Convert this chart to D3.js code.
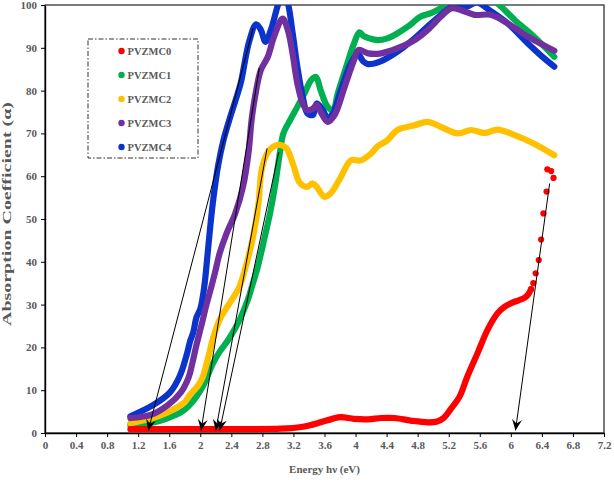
<!DOCTYPE html>
<html><head><meta charset="utf-8">
<script src="https://cdn.jsdelivr.net/npm/d3@7"></script>
<style>body{margin:0;background:#fff}</style>
</head><body>
<svg id="c" width="614" height="484"></svg>
<script>
const seriesNames = ["PVZMC0","PVZMC1","PVZMC2","PVZMC3","PVZMC4"];
const seriesColors = ["#ff0000","#00b050","#ffc000","#7030a0","#0a34cc"];

const pvzmc0 = [[1.10,0.9],[1.50,0.9],[2.00,0.9],[2.50,0.9],[3.04,1.0],[3.30,1.4],[3.55,2.5],[3.70,3.3],[3.81,3.7],[3.98,3.3],[4.16,3.2],[4.33,3.5],[4.50,3.5],[4.71,2.9],[4.93,2.5],[5.05,2.7],[5.14,3.6],[5.23,5.7],[5.34,8.5],[5.44,13.2],[5.57,18.6],[5.70,24.1],[5.83,28],[5.92,29.5],[6.00,30.3],[6.10,31],[6.17,31.5],[6.22,32.3],[6.26,33.6],[6.29,35],[6.32,37.3],[6.36,40.4],[6.39,45.2],[6.42,51.3],[6.46,56.4],[6.47,61.6],[6.52,61.2],[6.55,59.6]];
const pvzmc1 = [[1.10,1.8],[1.41,2.5],[1.60,3.6],[1.75,4.8],[1.85,6.3],[1.95,8.5],[2.05,11.5],[2.12,14.5],[2.17,16.5],[2.25,19],[2.35,21.5],[2.45,24.5],[2.52,27],[2.61,31],[2.67,34.5],[2.74,38.8],[2.82,45],[2.90,51.5],[2.96,57.5],[3.03,66],[3.07,70],[3.16,73.2],[3.25,76.2],[3.34,79.3],[3.43,82.5],[3.49,83.2],[3.55,80.1],[3.64,76.2],[3.71,75.4],[3.77,79.3],[3.88,85.6],[3.98,91],[4.05,93.6],[4.10,92.8],[4.18,92.2],[4.28,91.8],[4.41,92.2],[4.54,93.4],[4.67,94.9],[4.84,97.3],[4.97,98.1],[5.14,99.6],[5.27,100.4],[5.40,101.5],[5.55,102],[5.70,101.5],[5.83,100.3],[6.05,96.5],[6.30,92.6],[6.56,87.9]];
const pvzmc2 = [[1.10,2.3],[1.39,3.5],[1.58,4.8],[1.70,6],[1.80,7.2],[1.87,9],[1.97,11],[2.03,13],[2.10,17.5],[2.17,22.5],[2.25,26.5],[2.33,29],[2.42,31.5],[2.50,34],[2.58,38.5],[2.68,45.9],[2.75,53.7],[2.79,61.4],[2.86,65.3],[2.94,66.9],[3.03,67.3],[3.11,66.5],[3.20,62.5],[3.28,58.5],[3.37,57.5],[3.45,58.3],[3.50,57.5],[3.60,55.2],[3.68,56],[3.81,59.8],[3.94,63.7],[4.07,63.7],[4.20,65.3],[4.28,66.9],[4.41,68.4],[4.54,70.8],[4.76,71.9],[4.93,72.7],[5.10,71.5],[5.32,70],[5.49,70.8],[5.66,70.1],[5.83,70.9],[6.05,69.6],[6.30,67.6],[6.56,64.9]];
const pvzmc3 = [[1.10,3.5],[1.37,4.3],[1.58,6.5],[1.75,9.5],[1.85,13],[1.90,16.5],[1.95,20.5],[2.02,25.5],[2.08,30],[2.14,34],[2.19,37.5],[2.25,42],[2.34,46.7],[2.45,51.3],[2.55,57.5],[2.62,65.3],[2.66,73],[2.70,78],[2.78,84.8],[2.87,87.9],[2.95,92.6],[3.06,96.8],[3.13,94],[3.19,88.5],[3.25,81.7],[3.32,77],[3.38,75.4],[3.45,75.8],[3.50,76.6],[3.56,74.7],[3.64,72.7],[3.73,74.3],[3.86,80.9],[3.98,87.1],[4.04,89.5],[4.16,88.7],[4.33,88.7],[4.54,89.9],[4.76,91.8],[4.93,94.2],[5.10,97.3],[5.23,99.2],[5.36,98.8],[5.53,97.7],[5.74,97.7],[5.96,95.7],[6.22,92.6],[6.56,89.3]];
const pvzmc4 = [[1.10,3.9],[1.39,6.5],[1.61,9.5],[1.74,13.5],[1.83,18.6],[1.87,21.5],[1.91,23.5],[1.95,27],[2.00,29],[2.05,34],[2.09,41],[2.13,48.5],[2.17,55],[2.23,62.5],[2.30,68.5],[2.38,73.5],[2.45,77.5],[2.52,81.7],[2.63,91.5],[2.72,95.5],[2.78,94.2],[2.84,91.4],[2.91,94.2],[3.00,100],[3.06,103],[3.12,101],[3.19,93.4],[3.25,85.6],[3.32,78.5],[3.38,74.7],[3.45,74.3],[3.50,77],[3.58,75.4],[3.64,73.5],[3.71,74.7],[3.81,80.1],[3.94,86.4],[4.03,88.5],[4.10,86.8],[4.16,86.2],[4.33,86.9],[4.54,89.1],[4.76,92.2],[4.93,95],[5.10,97.7],[5.23,99.5],[5.32,100],[5.43,99.6],[5.56,100.6],[5.74,98.6],[5.96,95.7],[6.22,91],[6.40,88],[6.56,85.6]];
const seriesData = [pvzmc0, pvzmc1, pvzmc2, pvzmc3, pvzmc4];

// tangent (extrapolation) lines: [E start, alpha start, E end (arrow), alpha end]
const tangentLines = [[2.68,94.6,1.33,0.6],[2.76,85.3,2.01,0.6],[2.86,66.5,2.20,0.6],[3.01,65.6,2.25,0.6],[6.50,58.3,6.06,0.6]];

const xTicks = [0,0.4,0.8,1.2,1.6,2,2.4,2.8,3.2,3.6,4,4.4,4.8,5.2,5.6,6,6.4,6.8,7.2];
const yTicks = [0,10,20,30,40,50,60,70,80,90,100];
const xTitle = "Energy hν (eV)";
const yTitle = "Absorption Coefficient (α)";

const svg = d3.select("#c");
const L = 45, R = 604, T = 5, B = 433;
const x = d3.scaleLinear().domain([0,7.2]).range([L,R]);
const y = d3.scaleLinear().domain([0,100]).range([B,T]);
const font = "'Liberation Serif','Times New Roman',serif";
const grey = "#595959";

svg.append("defs").append("clipPath").attr("id","clip")
  .append("rect").attr("x",L).attr("y",T).attr("width",R-L).attr("height",B-T);
const defs = svg.select("defs");
defs.append("marker").attr("id","arr").attr("markerUnits","userSpaceOnUse")
  .attr("markerWidth",14).attr("markerHeight",14).attr("refX",0).attr("refY",0)
  .attr("viewBox","-12 -7 14 14").attr("orient","auto")
  .append("path").attr("d","M0,0 L-11,-5 L-7,0 L-11,5 Z").attr("fill","#000");

// frame
svg.append("rect").attr("x",L).attr("y",T).attr("width",R-L).attr("height",B-T)
  .attr("fill","none").attr("stroke","#222").attr("stroke-width",1.2);

// axes
const xa = svg.append("g").attr("transform",`translate(0,${B})`)
  .call(d3.axisBottom(x).tickValues(xTicks).tickSize(4).tickSizeOuter(0).tickPadding(4).tickFormat(d=>String(+d.toFixed(1))));
const ya = svg.append("g").attr("transform",`translate(${L},0)`)
  .call(d3.axisLeft(y).tickValues(yTicks).tickSize(4).tickSizeOuter(0).tickPadding(4));
[xa,ya].forEach(g=>{
  g.select(".domain").attr("stroke","#000").attr("stroke-width",1.4);
  g.selectAll(".tick line").attr("stroke","#000").attr("stroke-width",1);
  g.selectAll(".tick text").attr("fill",grey).attr("font-family",font)
    .attr("font-weight","bold").attr("font-size",11);
});

// series
const line = d3.line().x(d=>x(d[0])).y(d=>y(d[1])).curve(d3.curveCatmullRom.alpha(0.5));
const plot = svg.append("g").attr("clip-path","url(#clip)");
const order = [1,2,4,3,0];
order.forEach(i=>{
  const data = i===0 ? seriesData[i].filter(d=>d[0]<=6.26) : seriesData[i];
  plot.append("path").datum(data).attr("d",line).attr("fill","none")
    .attr("stroke",seriesColors[i]).attr("stroke-width",6.2)
    .attr("stroke-linecap","round").attr("stroke-linejoin","round");
});
plot.selectAll("circle.tail").data(pvzmc0.filter(d=>d[0]>=6.26)).join("circle")
  .attr("class","tail").attr("cx",d=>x(d[0])).attr("cy",d=>y(d[1])).attr("r",3.1)
  .attr("fill",seriesColors[0]);

// tangent arrows
svg.append("g").selectAll("line").data(tangentLines).join("line")
  .attr("x1",d=>x(d[0])).attr("y1",d=>y(d[1])).attr("x2",d=>x(d[2])).attr("y2",d=>y(d[3]))
  .attr("stroke","#000").attr("stroke-width",1).attr("marker-end","url(#arr)");

// legend
const lg = svg.append("g");
lg.append("rect").attr("x",88).attr("y",39).attr("width",110).attr("height",119)
  .attr("fill","none").attr("stroke","#333").attr("stroke-width",1).attr("stroke-dasharray","5,2,1.5,2");
seriesNames.forEach((n,i)=>{
  const cy = 51 + i*24;
  lg.append("circle").attr("cx",121.5).attr("cy",cy).attr("r",3.2).attr("fill",seriesColors[i]);
  lg.append("text").attr("x",127.5).attr("y",cy+3.8).text(n)
    .attr("font-family",font).attr("font-weight","bold").attr("font-size",10.5).attr("fill",grey);
});

// titles
svg.append("text").attr("x",(L+R)/2).attr("y",473).attr("text-anchor","middle").text(xTitle)
  .attr("font-family",font).attr("font-weight","bold").attr("font-size",11).attr("fill",grey);
svg.append("text").attr("transform",`translate(11,214) rotate(-90)`).attr("text-anchor","middle").text(yTitle)
  .attr("textLength",224).attr("lengthAdjust","spacingAndGlyphs")
  .attr("font-family",font).attr("font-weight","bold").attr("font-size",11.5).attr("fill",grey);
</script>
</body></html>
